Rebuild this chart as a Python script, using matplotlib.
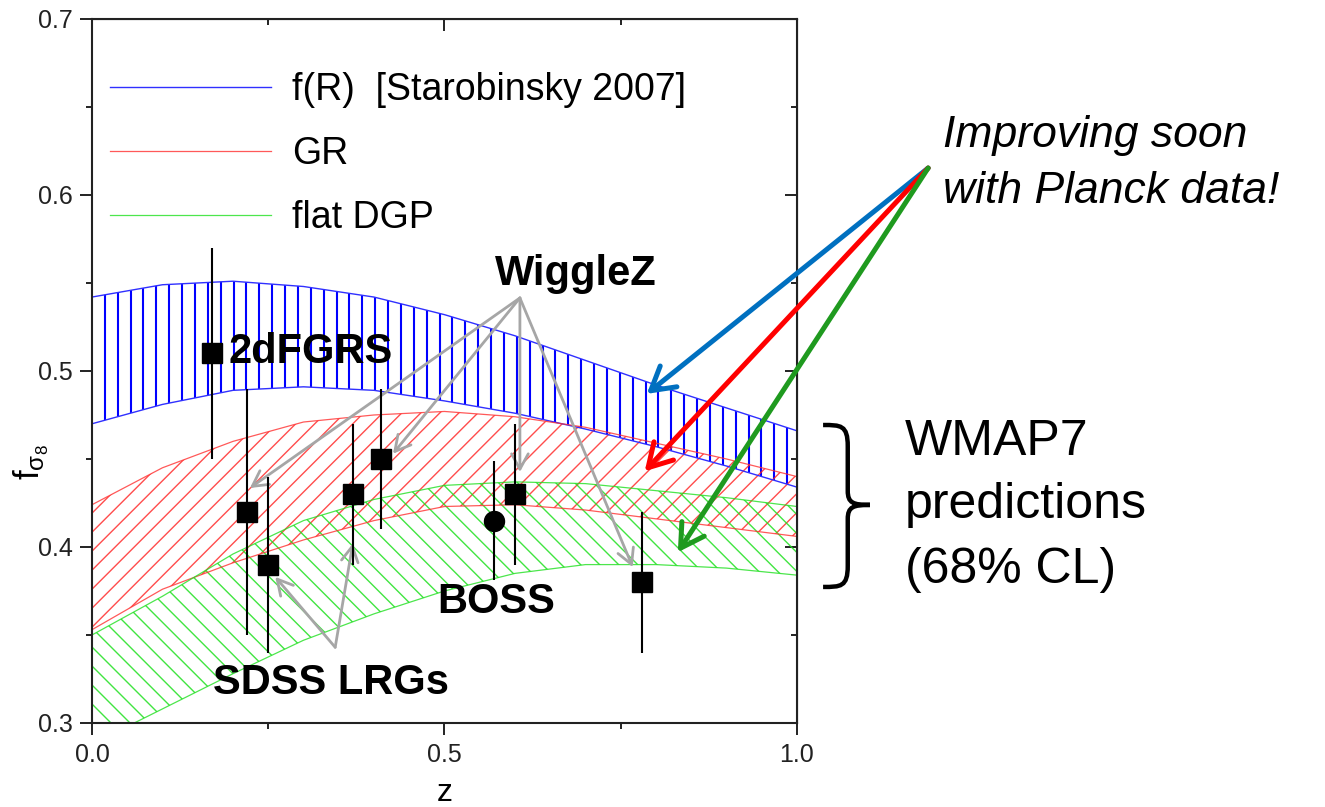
import numpy as np
import matplotlib
matplotlib.use("Agg")
import matplotlib.pyplot as plt
from matplotlib.collections import LineCollection
from matplotlib.path import Path
from matplotlib.patches import PathPatch
from matplotlib.ticker import MultipleLocator, NullFormatter

plt.rcParams['font.family'] = ['Liberation Sans', 'DejaVu Sans']
plt.rcParams['mathtext.fontset'] = 'custom'
plt.rcParams['mathtext.rm'] = 'Liberation Sans'
plt.rcParams['mathtext.it'] = 'Liberation Sans:italic'

# model bands (68% CL)
z_grid = [0.0, 0.1, 0.2, 0.3, 0.4, 0.5, 0.6, 0.7, 0.8, 0.9, 1.0]
fr_hi = [0.542, 0.549, 0.551, 0.548, 0.542, 0.532, 0.520, 0.506, 0.492, 0.479, 0.466]
fr_lo = [0.470, 0.481, 0.489, 0.491, 0.489, 0.483, 0.476, 0.467, 0.457, 0.446, 0.434]
gr_hi = [0.424, 0.445, 0.460, 0.471, 0.475, 0.477, 0.474, 0.468, 0.459, 0.450, 0.440]
gr_lo = [0.353, 0.376, 0.391, 0.404, 0.415, 0.423, 0.424, 0.421, 0.416, 0.411, 0.406]
dgp_hi = [0.350, 0.372, 0.396, 0.415, 0.427, 0.435, 0.437, 0.436, 0.432, 0.428, 0.423]
dgp_lo = [0.288, 0.308, 0.328, 0.347, 0.362, 0.375, 0.385, 0.390, 0.390, 0.388, 0.384]

# measurements
z_sq = [0.17, 0.22, 0.25, 0.37, 0.41, 0.60, 0.78]
fs8_sq = [0.51, 0.42, 0.39, 0.43, 0.45, 0.43, 0.38]
err_sq = [0.06, 0.07, 0.05, 0.04, 0.04, 0.04, 0.04]
z_boss = [0.57]
fs8_boss = [0.415]
err_boss = [0.034]

fig = plt.figure(figsize=(13.25, 8.07), dpi=100)
ax = fig.add_axes([0.0694, 0.1041, 0.5321, 0.8724])


def hatch_band(lo, hi, color, kind, step, lw, alpha=1.0):
    band = ax.fill_between(z_grid, lo, hi, facecolor='none', edgecolor='none')
    clip = band.get_paths()[0]
    if kind == '|':
        segs = [[(c, 0), (c, 1)] for c in np.arange(step, 1, step)]
    elif kind == '/':
        segs = [[(c, 0), (c + 1, 1)] for c in np.arange(-1, 1, step)]
    else:
        segs = [[(c, 0), (c - 1, 1)] for c in np.arange(0, 2, step)]
    lc = LineCollection(segs, colors=color, linewidths=lw, alpha=alpha,
                        transform=ax.transAxes, zorder=1)
    lc.set_clip_path(clip, ax.transData)
    ax.add_collection(lc, autolim=False)


hatch_band(fr_lo, fr_hi, '#0000ff', '|', 0.01826, 1.5)
hatch_band(gr_lo, gr_hi, '#ff2020', '/', 0.027, 1.0, 0.8)
hatch_band(dgp_lo, dgp_hi, '#20e020', '\\', 0.027, 1.0, 0.85)

ax.plot(z_grid, fr_hi, color='#3030ff', lw=1.0, label='f(R)  [Starobinsky 2007]')
ax.plot(z_grid, fr_lo, color='#3030ff', lw=1.0)
ax.plot(z_grid, gr_hi, color='#ff3030', lw=0.9, alpha=0.8, label='GR')
ax.plot(z_grid, gr_lo, color='#ff3030', lw=0.9, alpha=0.8)
ax.plot(z_grid, dgp_hi, color='#20e020', lw=0.9, alpha=0.8, label='flat DGP')
ax.plot(z_grid, dgp_lo, color='#20e020', lw=0.9, alpha=0.8)

ax.errorbar(z_sq, fs8_sq, yerr=err_sq, fmt='s', color='k', ms=14.4,
            elinewidth=1.5, capsize=0, zorder=5)
ax.errorbar(z_boss, fs8_boss, yerr=err_boss, fmt='o', color='k', ms=14.4,
            elinewidth=1.5, capsize=0, zorder=5)

ax.set_xlim(0, 1)
ax.set_ylim(0.3, 0.7)
ax.xaxis.set_major_locator(MultipleLocator(0.5))
ax.xaxis.set_minor_locator(MultipleLocator(0.25))
ax.yaxis.set_major_locator(MultipleLocator(0.1))
ax.yaxis.set_minor_locator(MultipleLocator(0.05))
ax.xaxis.set_major_formatter(lambda v, p: f'{v:.1f}')
ax.yaxis.set_major_formatter(lambda v, p: f'{v:.1f}')
ax.tick_params(which='both', direction='out', width=1.4, colors='#222222',
               labelsize=18, top=False, right=False)
ax.tick_params(which='major', length=8.5)
ax.tick_params(which='minor', length=4.5)
ax.tick_params(axis='y', pad=5)
ax.tick_params(axis='x', pad=6)
for s in ax.spines.values():
    s.set_linewidth(1.5)
    s.set_color('#222222')

top = ax.secondary_xaxis('top')
top.xaxis.set_major_locator(MultipleLocator(0.5))
top.xaxis.set_minor_locator(MultipleLocator(0.25))
top.xaxis.set_major_formatter(NullFormatter())
top.tick_params(which='both', direction='in', width=1.4, colors='#222222')
top.tick_params(which='major', length=8.5)
top.tick_params(which='minor', length=4.5)
right = ax.secondary_yaxis('right')
right.yaxis.set_major_locator(MultipleLocator(0.1))
right.yaxis.set_minor_locator(MultipleLocator(0.05))
right.yaxis.set_major_formatter(NullFormatter())
right.tick_params(which='both', direction='in', width=1.4, colors='#222222')
right.tick_params(which='major', length=8.5)
right.tick_params(which='minor', length=4.5)

ax.set_xlabel('z', fontsize=23, labelpad=8)
ax.set_ylabel(r'$\mathregular{f_{\sigma_8}}$', fontsize=25)
ax.yaxis.set_label_coords(-0.058, 0.37)

leg = ax.legend(loc='upper left', bbox_to_anchor=(0.0255, 0.925), frameon=False,
                fontsize=27, handlelength=4.3, handletextpad=0.55,
                labelspacing=0.75, borderpad=0, borderaxespad=0)

bold = dict(fontsize=30, fontweight='bold', va='center', zorder=6)
ax.text(0.194, 0.511, '2dFGRS', ha='left', **bold)
ax.text(0.687, 0.555, 'WiggleZ', ha='center', **bold)
ax.text(0.339, 0.3227, 'SDSS LRGs', ha='center', **bold)
ax.text(0.573, 0.3688, 'BOSS', ha='center', **bold)

grey = dict(arrowstyle='->,head_length=0.55,head_width=0.3', color='#a6a6a6',
            lw=2.0, mutation_scale=20, shrinkA=0, shrinkB=0)
wig_from = (0.607, 0.5415)
for tip in [(0.224, 0.4335), (0.427, 0.453), (0.607, 0.4426), (0.767, 0.3886)]:
    ax.annotate('', xy=tip, xytext=wig_from, arrowprops=grey, zorder=4)
sdss_from = (0.345, 0.343)
for tip in [(0.26, 0.383), (0.37, 0.402)]:
    ax.annotate('', xy=tip, xytext=sdss_from, arrowprops=grey, zorder=4)

planck_from = (1.186, 0.6153)
for tip, col in [((0.787, 0.487), '#0070c0'), ((0.784, 0.443), '#ff0000'),
                 ((0.831, 0.397), '#1f9a1f')]:
    ax.annotate('', xy=tip, xytext=planck_from, annotation_clip=False,
                arrowprops=dict(arrowstyle='->,head_length=0.55,head_width=0.32',
                                color=col, lw=3.6, mutation_scale=30,
                                shrinkA=0, shrinkB=0), zorder=7)

# curly brace next to the bands
bt, bm, bb = 0.4693, 0.4239, 0.3773
xl, xv, xt = 1.037, 1.072, 1.1035
verts = [(xl, bt), (1.062, bt), (xv, bt), (xv, bt - 0.012),
         (xv, bm + 0.008),
         (xv, bm + 0.001), (1.08, bm), (xt, bm),
         (1.08, bm), (xv, bm - 0.001), (xv, bm - 0.008),
         (xv, bb + 0.012),
         (xv, bb), (1.062, bb), (xl, bb)]
codes = [Path.MOVETO, Path.CURVE4, Path.CURVE4, Path.CURVE4,
         Path.LINETO,
         Path.CURVE4, Path.CURVE4, Path.CURVE4,
         Path.CURVE4, Path.CURVE4, Path.CURVE4,
         Path.LINETO,
         Path.CURVE4, Path.CURVE4, Path.CURVE4]
ax.add_patch(PathPatch(Path(verts, codes), facecolor='none', edgecolor='k',
                       lw=3.2, clip_on=False))

fig.text(943 / 1325, 1 - 147 / 807, 'Improving soon', fontsize=32,
         style='italic', va='baseline')
fig.text(943 / 1325, 1 - 203 / 807, 'with Planck data!', fontsize=32,
         style='italic', va='baseline')
for txt, base in [('WMAP7', 455), ('predictions', 518), ('(68% CL)', 583)]:
    fig.text(905 / 1325, 1 - base / 807, txt, fontsize=36, va='baseline')

fig.savefig('out.png', dpi=100)
